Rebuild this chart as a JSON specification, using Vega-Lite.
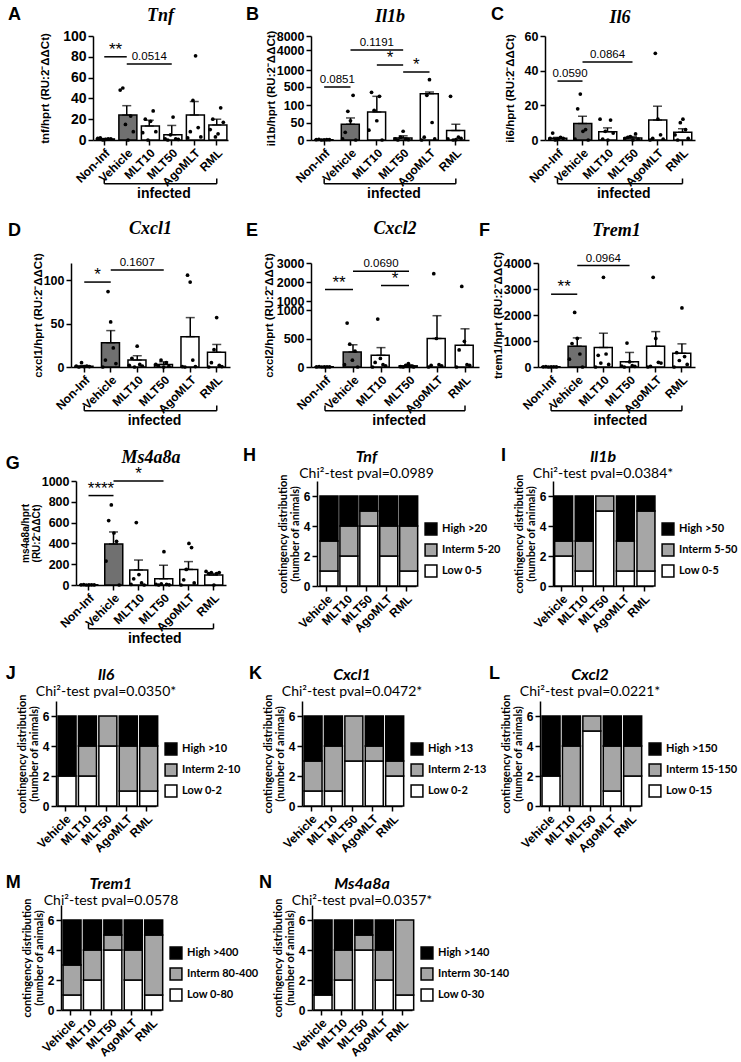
{
"$schema":"https://vega.github.io/schema/vega-lite/v6.json",
"background":"white",
"padding":{"left":5,"top":5,"right":0,"bottom":0},
"datasets":{
"summ":[
{"gene":"Tnf","g":"Non-Inf","v":1,"err":1.4},{"gene":"Tnf","g":"Vehicle","v":24,"err":33},{"gene":"Tnf","g":"MLT10","v":13.5,"err":19},{"gene":"Tnf","g":"MLT50","v":5,"err":14},{"gene":"Tnf","g":"AgoMLT","v":24,"err":37},{"gene":"Tnf","g":"RML","v":14.5,"err":20},
{"gene":"Il1b","g":"Non-Inf","v":1,"err":1.4},{"gene":"Il1b","g":"Vehicle","v":45,"err":63},{"gene":"Il1b","g":"MLT10","v":80,"err":230},{"gene":"Il1b","g":"MLT50","v":6,"err":12},{"gene":"Il1b","g":"AgoMLT","v":290,"err":340},{"gene":"Il1b","g":"RML","v":27,"err":45},
{"gene":"Il6","g":"Non-Inf","v":1,"err":1.5},{"gene":"Il6","g":"Vehicle","v":9.5,"err":13.7},{"gene":"Il6","g":"MLT10","v":4.8,"err":7},{"gene":"Il6","g":"MLT50","v":1.2,"err":2},{"gene":"Il6","g":"AgoMLT","v":11.5,"err":19.5},{"gene":"Il6","g":"RML","v":4.5,"err":6.5},
{"gene":"Cxcl1","g":"Non-Inf","v":1,"err":1.6},{"gene":"Cxcl1","g":"Vehicle","v":28,"err":42},{"gene":"Cxcl1","g":"MLT10","v":8,"err":13},{"gene":"Cxcl1","g":"MLT50","v":3,"err":6},{"gene":"Cxcl1","g":"AgoMLT","v":35,"err":57},{"gene":"Cxcl1","g":"RML","v":17,"err":26},
{"gene":"Cxcl2","g":"Non-Inf","v":5,"err":7},{"gene":"Cxcl2","g":"Vehicle","v":265,"err":390},{"gene":"Cxcl2","g":"MLT10","v":205,"err":340},{"gene":"Cxcl2","g":"MLT50","v":20,"err":40},{"gene":"Cxcl2","g":"AgoMLT","v":500,"err":900},{"gene":"Cxcl2","g":"RML","v":380,"err":670},
{"gene":"Trem1","g":"Non-Inf","v":10,"err":15},{"gene":"Trem1","g":"Vehicle","v":800,"err":1120},{"gene":"Trem1","g":"MLT10","v":750,"err":1300},{"gene":"Trem1","g":"MLT50","v":200,"err":560},{"gene":"Trem1","g":"AgoMLT","v":800,"err":1360},{"gene":"Trem1","g":"RML","v":530,"err":890},
{"gene":"Ms4a8a","g":"Non-Inf","v":2,"err":3},{"gene":"Ms4a8a","g":"Vehicle","v":395,"err":510},{"gene":"Ms4a8a","g":"MLT10","v":145,"err":240},{"gene":"Ms4a8a","g":"MLT50","v":60,"err":190},{"gene":"Ms4a8a","g":"AgoMLT","v":150,"err":225},{"gene":"Ms4a8a","g":"RML","v":95,"err":110}
],
"pts":[
{"gene":"Tnf","g":"Non-Inf","rep":2,"v":2},{"gene":"Tnf","g":"Non-Inf","rep":5,"v":1},{"gene":"Tnf","g":"Non-Inf","rep":1,"v":1.5},{"gene":"Tnf","g":"Non-Inf","rep":4,"v":0.5},{"gene":"Tnf","g":"Non-Inf","rep":6,"v":1},{"gene":"Tnf","g":"Non-Inf","rep":3,"v":0},
{"gene":"Tnf","g":"Vehicle","rep":2,"v":50},{"gene":"Tnf","g":"Vehicle","rep":1,"v":48},{"gene":"Tnf","g":"Vehicle","rep":5,"v":23},{"gene":"Tnf","g":"Vehicle","rep":3,"v":15},{"gene":"Tnf","g":"Vehicle","rep":6,"v":8},{"gene":"Tnf","g":"Vehicle","rep":4,"v":0},
{"gene":"Tnf","g":"MLT10","rep":5,"v":28},{"gene":"Tnf","g":"MLT10","rep":2,"v":20},{"gene":"Tnf","g":"MLT10","rep":4,"v":18},{"gene":"Tnf","g":"MLT10","rep":6,"v":8},{"gene":"Tnf","g":"MLT10","rep":1,"v":7},{"gene":"Tnf","g":"MLT10","rep":3,"v":0},
{"gene":"Tnf","g":"MLT50","rep":4,"v":22},{"gene":"Tnf","g":"MLT50","rep":3,"v":5},{"gene":"Tnf","g":"MLT50","rep":1,"v":1},{"gene":"Tnf","g":"MLT50","rep":5,"v":1},{"gene":"Tnf","g":"MLT50","rep":6,"v":0.5},{"gene":"Tnf","g":"MLT50","rep":2,"v":0},
{"gene":"Tnf","g":"AgoMLT","rep":4,"v":81},{"gene":"Tnf","g":"AgoMLT","rep":3,"v":38},{"gene":"Tnf","g":"AgoMLT","rep":5,"v":12},{"gene":"Tnf","g":"AgoMLT","rep":2,"v":8},{"gene":"Tnf","g":"AgoMLT","rep":6,"v":3},{"gene":"Tnf","g":"AgoMLT","rep":1,"v":2},
{"gene":"Tnf","g":"RML","rep":5,"v":31},{"gene":"Tnf","g":"RML","rep":2,"v":20},{"gene":"Tnf","g":"RML","rep":6,"v":17},{"gene":"Tnf","g":"RML","rep":1,"v":10},{"gene":"Tnf","g":"RML","rep":4,"v":6},{"gene":"Tnf","g":"RML","rep":3,"v":3},
{"gene":"Il1b","g":"Non-Inf","rep":2,"v":2},{"gene":"Il1b","g":"Non-Inf","rep":5,"v":1},{"gene":"Il1b","g":"Non-Inf","rep":1,"v":1},{"gene":"Il1b","g":"Non-Inf","rep":4,"v":0.5},{"gene":"Il1b","g":"Non-Inf","rep":6,"v":1},{"gene":"Il1b","g":"Non-Inf","rep":3,"v":0},
{"gene":"Il1b","g":"Vehicle","rep":5,"v":245},{"gene":"Il1b","g":"Vehicle","rep":3,"v":82},{"gene":"Il1b","g":"Vehicle","rep":4,"v":55},{"gene":"Il1b","g":"Vehicle","rep":2,"v":22},{"gene":"Il1b","g":"Vehicle","rep":1,"v":3},{"gene":"Il1b","g":"Vehicle","rep":6,"v":0},
{"gene":"Il1b","g":"MLT10","rep":2,"v":330},{"gene":"Il1b","g":"MLT10","rep":5,"v":230},{"gene":"Il1b","g":"MLT10","rep":3,"v":85},{"gene":"Il1b","g":"MLT10","rep":4,"v":55},{"gene":"Il1b","g":"MLT10","rep":1,"v":28},{"gene":"Il1b","g":"MLT10","rep":6,"v":0},
{"gene":"Il1b","g":"MLT50","rep":4,"v":25},{"gene":"Il1b","g":"MLT50","rep":3,"v":8},{"gene":"Il1b","g":"MLT50","rep":1,"v":3},{"gene":"Il1b","g":"MLT50","rep":5,"v":2},{"gene":"Il1b","g":"MLT50","rep":6,"v":1},{"gene":"Il1b","g":"MLT50","rep":2,"v":0},
{"gene":"Il1b","g":"AgoMLT","rep":4,"v":710},{"gene":"Il1b","g":"AgoMLT","rep":3,"v":245},{"gene":"Il1b","g":"AgoMLT","rep":5,"v":50},{"gene":"Il1b","g":"AgoMLT","rep":2,"v":8},{"gene":"Il1b","g":"AgoMLT","rep":6,"v":3},{"gene":"Il1b","g":"AgoMLT","rep":1,"v":0},
{"gene":"Il1b","g":"RML","rep":2,"v":230},{"gene":"Il1b","g":"RML","rep":5,"v":8},{"gene":"Il1b","g":"RML","rep":6,"v":5},{"gene":"Il1b","g":"RML","rep":1,"v":3},{"gene":"Il1b","g":"RML","rep":4,"v":1},{"gene":"Il1b","g":"RML","rep":3,"v":0},
{"gene":"Il6","g":"Non-Inf","rep":2,"v":4},{"gene":"Il6","g":"Non-Inf","rep":5,"v":1.5},{"gene":"Il6","g":"Non-Inf","rep":1,"v":1},{"gene":"Il6","g":"Non-Inf","rep":4,"v":0.5},{"gene":"Il6","g":"Non-Inf","rep":6,"v":1},{"gene":"Il6","g":"Non-Inf","rep":3,"v":0},
{"gene":"Il6","g":"Vehicle","rep":3,"v":26.5},{"gene":"Il6","g":"Vehicle","rep":2,"v":18},{"gene":"Il6","g":"Vehicle","rep":5,"v":6},{"gene":"Il6","g":"Vehicle","rep":4,"v":5},{"gene":"Il6","g":"Vehicle","rep":1,"v":0.5},{"gene":"Il6","g":"Vehicle","rep":6,"v":0},
{"gene":"Il6","g":"MLT10","rep":1,"v":12},{"gene":"Il6","g":"MLT10","rep":5,"v":11.5},{"gene":"Il6","g":"MLT10","rep":3,"v":5},{"gene":"Il6","g":"MLT10","rep":6,"v":4},{"gene":"Il6","g":"MLT10","rep":2,"v":0.5},{"gene":"Il6","g":"MLT10","rep":4,"v":0},
{"gene":"Il6","g":"MLT50","rep":5,"v":3.5},{"gene":"Il6","g":"MLT50","rep":3,"v":2},{"gene":"Il6","g":"MLT50","rep":1,"v":1},{"gene":"Il6","g":"MLT50","rep":6,"v":0.5},{"gene":"Il6","g":"MLT50","rep":2,"v":1.5},{"gene":"Il6","g":"MLT50","rep":4,"v":0},
{"gene":"Il6","g":"AgoMLT","rep":3,"v":50},{"gene":"Il6","g":"AgoMLT","rep":4,"v":12},{"gene":"Il6","g":"AgoMLT","rep":5,"v":3},{"gene":"Il6","g":"AgoMLT","rep":2,"v":1},{"gene":"Il6","g":"AgoMLT","rep":6,"v":0.5},{"gene":"Il6","g":"AgoMLT","rep":1,"v":0},
{"gene":"Il6","g":"RML","rep":4,"v":12},{"gene":"Il6","g":"RML","rep":3,"v":10},{"gene":"Il6","g":"RML","rep":5,"v":6},{"gene":"Il6","g":"RML","rep":1,"v":3},{"gene":"Il6","g":"RML","rep":6,"v":1},{"gene":"Il6","g":"RML","rep":2,"v":0},
{"gene":"Cxcl1","g":"Non-Inf","rep":3,"v":5},{"gene":"Cxcl1","g":"Non-Inf","rep":5,"v":1},{"gene":"Cxcl1","g":"Non-Inf","rep":1,"v":1},{"gene":"Cxcl1","g":"Non-Inf","rep":4,"v":0.5},{"gene":"Cxcl1","g":"Non-Inf","rep":6,"v":0.5},{"gene":"Cxcl1","g":"Non-Inf","rep":2,"v":0},
{"gene":"Cxcl1","g":"Vehicle","rep":3,"v":87},{"gene":"Cxcl1","g":"Vehicle","rep":4,"v":52},{"gene":"Cxcl1","g":"Vehicle","rep":5,"v":22},{"gene":"Cxcl1","g":"Vehicle","rep":2,"v":8},{"gene":"Cxcl1","g":"Vehicle","rep":6,"v":4},{"gene":"Cxcl1","g":"Vehicle","rep":1,"v":0},
{"gene":"Cxcl1","g":"MLT10","rep":4,"v":24},{"gene":"Cxcl1","g":"MLT10","rep":2,"v":10},{"gene":"Cxcl1","g":"MLT10","rep":5,"v":3},{"gene":"Cxcl1","g":"MLT10","rep":1,"v":2},{"gene":"Cxcl1","g":"MLT10","rep":6,"v":1},{"gene":"Cxcl1","g":"MLT10","rep":3,"v":0},
{"gene":"Cxcl1","g":"MLT50","rep":3,"v":8},{"gene":"Cxcl1","g":"MLT50","rep":5,"v":5},{"gene":"Cxcl1","g":"MLT50","rep":1,"v":3},{"gene":"Cxcl1","g":"MLT50","rep":6,"v":1},{"gene":"Cxcl1","g":"MLT50","rep":2,"v":1},{"gene":"Cxcl1","g":"MLT50","rep":4,"v":0},
{"gene":"Cxcl1","g":"AgoMLT","rep":3,"v":106},{"gene":"Cxcl1","g":"AgoMLT","rep":4,"v":98},{"gene":"Cxcl1","g":"AgoMLT","rep":5,"v":8},{"gene":"Cxcl1","g":"AgoMLT","rep":1,"v":0.5},{"gene":"Cxcl1","g":"AgoMLT","rep":6,"v":0.5},{"gene":"Cxcl1","g":"AgoMLT","rep":2,"v":0},
{"gene":"Cxcl1","g":"RML","rep":4,"v":57},{"gene":"Cxcl1","g":"RML","rep":3,"v":20},{"gene":"Cxcl1","g":"RML","rep":2,"v":5},{"gene":"Cxcl1","g":"RML","rep":5,"v":2},{"gene":"Cxcl1","g":"RML","rep":6,"v":0.5},{"gene":"Cxcl1","g":"RML","rep":1,"v":0},
{"gene":"Cxcl2","g":"Non-Inf","rep":2,"v":5},{"gene":"Cxcl2","g":"Non-Inf","rep":5,"v":3},{"gene":"Cxcl2","g":"Non-Inf","rep":1,"v":2},{"gene":"Cxcl2","g":"Non-Inf","rep":4,"v":1},{"gene":"Cxcl2","g":"Non-Inf","rep":6,"v":1},{"gene":"Cxcl2","g":"Non-Inf","rep":3,"v":0},
{"gene":"Cxcl2","g":"Vehicle","rep":2,"v":770},{"gene":"Cxcl2","g":"Vehicle","rep":3,"v":400},{"gene":"Cxcl2","g":"Vehicle","rep":5,"v":280},{"gene":"Cxcl2","g":"Vehicle","rep":4,"v":120},{"gene":"Cxcl2","g":"Vehicle","rep":1,"v":40},{"gene":"Cxcl2","g":"Vehicle","rep":6,"v":0},
{"gene":"Cxcl2","g":"MLT10","rep":3,"v":840},{"gene":"Cxcl2","g":"MLT10","rep":4,"v":150},{"gene":"Cxcl2","g":"MLT10","rep":2,"v":80},{"gene":"Cxcl2","g":"MLT10","rep":5,"v":40},{"gene":"Cxcl2","g":"MLT10","rep":6,"v":20},{"gene":"Cxcl2","g":"MLT10","rep":1,"v":0},
{"gene":"Cxcl2","g":"MLT50","rep":4,"v":60},{"gene":"Cxcl2","g":"MLT50","rep":3,"v":30},{"gene":"Cxcl2","g":"MLT50","rep":5,"v":10},{"gene":"Cxcl2","g":"MLT50","rep":1,"v":5},{"gene":"Cxcl2","g":"MLT50","rep":6,"v":2},{"gene":"Cxcl2","g":"MLT50","rep":2,"v":0},
{"gene":"Cxcl2","g":"AgoMLT","rep":3,"v":2450},{"gene":"Cxcl2","g":"AgoMLT","rep":4,"v":500},{"gene":"Cxcl2","g":"AgoMLT","rep":5,"v":40},{"gene":"Cxcl2","g":"AgoMLT","rep":2,"v":30},{"gene":"Cxcl2","g":"AgoMLT","rep":6,"v":20},{"gene":"Cxcl2","g":"AgoMLT","rep":1,"v":0},
{"gene":"Cxcl2","g":"RML","rep":3,"v":1800},{"gene":"Cxcl2","g":"RML","rep":4,"v":450},{"gene":"Cxcl2","g":"RML","rep":2,"v":300},{"gene":"Cxcl2","g":"RML","rep":5,"v":40},{"gene":"Cxcl2","g":"RML","rep":6,"v":30},{"gene":"Cxcl2","g":"RML","rep":1,"v":0},
{"gene":"Trem1","g":"Non-Inf","rep":2,"v":10},{"gene":"Trem1","g":"Non-Inf","rep":5,"v":5},{"gene":"Trem1","g":"Non-Inf","rep":1,"v":5},{"gene":"Trem1","g":"Non-Inf","rep":4,"v":3},{"gene":"Trem1","g":"Non-Inf","rep":6,"v":2},{"gene":"Trem1","g":"Non-Inf","rep":3,"v":0},
{"gene":"Trem1","g":"Vehicle","rep":3,"v":2100},{"gene":"Trem1","g":"Vehicle","rep":4,"v":1100},{"gene":"Trem1","g":"Vehicle","rep":2,"v":900},{"gene":"Trem1","g":"Vehicle","rep":5,"v":500},{"gene":"Trem1","g":"Vehicle","rep":1,"v":300},{"gene":"Trem1","g":"Vehicle","rep":6,"v":0},
{"gene":"Trem1","g":"MLT10","rep":4,"v":3450},{"gene":"Trem1","g":"MLT10","rep":5,"v":500},{"gene":"Trem1","g":"MLT10","rep":2,"v":450},{"gene":"Trem1","g":"MLT10","rep":3,"v":150},{"gene":"Trem1","g":"MLT10","rep":6,"v":100},{"gene":"Trem1","g":"MLT10","rep":1,"v":0},
{"gene":"Trem1","g":"MLT50","rep":3,"v":920},{"gene":"Trem1","g":"MLT50","rep":4,"v":200},{"gene":"Trem1","g":"MLT50","rep":5,"v":50},{"gene":"Trem1","g":"MLT50","rep":1,"v":30},{"gene":"Trem1","g":"MLT50","rep":6,"v":20},{"gene":"Trem1","g":"MLT50","rep":2,"v":0},
{"gene":"Trem1","g":"AgoMLT","rep":3,"v":3450},{"gene":"Trem1","g":"AgoMLT","rep":4,"v":1100},{"gene":"Trem1","g":"AgoMLT","rep":5,"v":180},{"gene":"Trem1","g":"AgoMLT","rep":6,"v":150},{"gene":"Trem1","g":"AgoMLT","rep":2,"v":20},{"gene":"Trem1","g":"AgoMLT","rep":1,"v":0},
{"gene":"Trem1","g":"RML","rep":4,"v":2270},{"gene":"Trem1","g":"RML","rep":2,"v":550},{"gene":"Trem1","g":"RML","rep":5,"v":400},{"gene":"Trem1","g":"RML","rep":3,"v":250},{"gene":"Trem1","g":"RML","rep":6,"v":100},{"gene":"Trem1","g":"RML","rep":1,"v":0},
{"gene":"Ms4a8a","g":"Non-Inf","rep":2,"v":3},{"gene":"Ms4a8a","g":"Non-Inf","rep":5,"v":2},{"gene":"Ms4a8a","g":"Non-Inf","rep":1,"v":2},{"gene":"Ms4a8a","g":"Non-Inf","rep":4,"v":1},{"gene":"Ms4a8a","g":"Non-Inf","rep":6,"v":1},{"gene":"Ms4a8a","g":"Non-Inf","rep":3,"v":0},
{"gene":"Ms4a8a","g":"Vehicle","rep":3,"v":770},{"gene":"Ms4a8a","g":"Vehicle","rep":2,"v":620},{"gene":"Ms4a8a","g":"Vehicle","rep":4,"v":500},{"gene":"Ms4a8a","g":"Vehicle","rep":5,"v":420},{"gene":"Ms4a8a","g":"Vehicle","rep":1,"v":230},{"gene":"Ms4a8a","g":"Vehicle","rep":6,"v":0},
{"gene":"Ms4a8a","g":"MLT10","rep":3,"v":600},{"gene":"Ms4a8a","g":"MLT10","rep":4,"v":100},{"gene":"Ms4a8a","g":"MLT10","rep":2,"v":60},{"gene":"Ms4a8a","g":"MLT10","rep":5,"v":20},{"gene":"Ms4a8a","g":"MLT10","rep":1,"v":5},{"gene":"Ms4a8a","g":"MLT10","rep":6,"v":0},
{"gene":"Ms4a8a","g":"MLT50","rep":4,"v":320},{"gene":"Ms4a8a","g":"MLT50","rep":3,"v":10},{"gene":"Ms4a8a","g":"MLT50","rep":1,"v":5},{"gene":"Ms4a8a","g":"MLT50","rep":5,"v":5},{"gene":"Ms4a8a","g":"MLT50","rep":6,"v":2},{"gene":"Ms4a8a","g":"MLT50","rep":2,"v":0},
{"gene":"Ms4a8a","g":"AgoMLT","rep":4,"v":400},{"gene":"Ms4a8a","g":"AgoMLT","rep":5,"v":360},{"gene":"Ms4a8a","g":"AgoMLT","rep":3,"v":150},{"gene":"Ms4a8a","g":"AgoMLT","rep":2,"v":50},{"gene":"Ms4a8a","g":"AgoMLT","rep":6,"v":20},{"gene":"Ms4a8a","g":"AgoMLT","rep":1,"v":0},
{"gene":"Ms4a8a","g":"RML","rep":1,"v":130},{"gene":"Ms4a8a","g":"RML","rep":3,"v":120},{"gene":"Ms4a8a","g":"RML","rep":6,"v":120},{"gene":"Ms4a8a","g":"RML","rep":2,"v":110},{"gene":"Ms4a8a","g":"RML","rep":5,"v":110},{"gene":"Ms4a8a","g":"RML","rep":4,"v":0}
],
"ann":[
{"gene":"Tnf","g":"Non-Inf","g2":"Vehicle","v":80,"label":"**"},{"gene":"Tnf","g":"Vehicle","g2":"MLT50","v":73,"label":"0.0514"},
{"gene":"Il1b","g":"Non-Inf","g2":"Vehicle","v":490,"label":"0.0851"},{"gene":"Il1b","g":"Vehicle","g2":"MLT50","v":4000,"label":"0.1191"},{"gene":"Il1b","g":"MLT10","g2":"MLT50","v":1100,"label":"*"},{"gene":"Il1b","g":"MLT50","g2":"AgoMLT","v":940,"label":"*"},
{"gene":"Il6","g":"Non-Inf","g2":"Vehicle","v":34,"label":"0.0590"},{"gene":"Il6","g":"Vehicle","g2":"MLT50","v":45,"label":"0.0864"},
{"gene":"Cxcl1","g":"Non-Inf","g2":"Vehicle","v":98,"label":"*"},{"gene":"Cxcl1","g":"Vehicle","g2":"MLT50","v":112,"label":"0.1607"},
{"gene":"Cxcl2","g":"Non-Inf","g2":"Vehicle","v":1640,"label":"**"},{"gene":"Cxcl2","g":"Vehicle","g2":"MLT50","v":2580,"label":"0.0690"},{"gene":"Cxcl2","g":"MLT10","g2":"MLT50","v":1845,"label":"*"},
{"gene":"Trem1","g":"Non-Inf","g2":"Vehicle","v":2800,"label":"**"},{"gene":"Trem1","g":"Vehicle","g2":"MLT50","v":3900,"label":"0.0964"},
{"gene":"Ms4a8a","g":"Non-Inf","g2":"Vehicle","v":860,"label":"****"},{"gene":"Ms4a8a","g":"Vehicle","g2":"MLT50","v":1000,"label":"*"}
],
"dist":[
{"gene":"Tnf","g":"Vehicle","cat":"Low","n":1},{"gene":"Tnf","g":"Vehicle","cat":"Interm","n":2},{"gene":"Tnf","g":"Vehicle","cat":"High","n":3},
{"gene":"Tnf","g":"MLT10","cat":"Low","n":2},{"gene":"Tnf","g":"MLT10","cat":"Interm","n":2},{"gene":"Tnf","g":"MLT10","cat":"High","n":2},
{"gene":"Tnf","g":"MLT50","cat":"Low","n":4},{"gene":"Tnf","g":"MLT50","cat":"Interm","n":1},{"gene":"Tnf","g":"MLT50","cat":"High","n":1},
{"gene":"Tnf","g":"AgoMLT","cat":"Low","n":2},{"gene":"Tnf","g":"AgoMLT","cat":"Interm","n":2},{"gene":"Tnf","g":"AgoMLT","cat":"High","n":2},
{"gene":"Tnf","g":"RML","cat":"Low","n":1},{"gene":"Tnf","g":"RML","cat":"Interm","n":3},{"gene":"Tnf","g":"RML","cat":"High","n":2},
{"gene":"Il1b","g":"Vehicle","cat":"Low","n":2},{"gene":"Il1b","g":"Vehicle","cat":"Interm","n":1},{"gene":"Il1b","g":"Vehicle","cat":"High","n":3},
{"gene":"Il1b","g":"MLT10","cat":"Low","n":1},{"gene":"Il1b","g":"MLT10","cat":"Interm","n":2},{"gene":"Il1b","g":"MLT10","cat":"High","n":3},
{"gene":"Il1b","g":"MLT50","cat":"Low","n":5},{"gene":"Il1b","g":"MLT50","cat":"Interm","n":1},
{"gene":"Il1b","g":"AgoMLT","cat":"Low","n":1},{"gene":"Il1b","g":"AgoMLT","cat":"Interm","n":2},{"gene":"Il1b","g":"AgoMLT","cat":"High","n":3},
{"gene":"Il1b","g":"RML","cat":"Low","n":1},{"gene":"Il1b","g":"RML","cat":"Interm","n":4},{"gene":"Il1b","g":"RML","cat":"High","n":1},
{"gene":"Il6","g":"Vehicle","cat":"Low","n":2},{"gene":"Il6","g":"Vehicle","cat":"High","n":4},
{"gene":"Il6","g":"MLT10","cat":"Low","n":2},{"gene":"Il6","g":"MLT10","cat":"Interm","n":2},{"gene":"Il6","g":"MLT10","cat":"High","n":2},
{"gene":"Il6","g":"MLT50","cat":"Low","n":4},{"gene":"Il6","g":"MLT50","cat":"Interm","n":2},
{"gene":"Il6","g":"AgoMLT","cat":"Low","n":1},{"gene":"Il6","g":"AgoMLT","cat":"Interm","n":3},{"gene":"Il6","g":"AgoMLT","cat":"High","n":2},
{"gene":"Il6","g":"RML","cat":"Low","n":1},{"gene":"Il6","g":"RML","cat":"Interm","n":3},{"gene":"Il6","g":"RML","cat":"High","n":2},
{"gene":"Cxcl1","g":"Vehicle","cat":"Low","n":1},{"gene":"Cxcl1","g":"Vehicle","cat":"Interm","n":2},{"gene":"Cxcl1","g":"Vehicle","cat":"High","n":3},
{"gene":"Cxcl1","g":"MLT10","cat":"Low","n":1},{"gene":"Cxcl1","g":"MLT10","cat":"Interm","n":3},{"gene":"Cxcl1","g":"MLT10","cat":"High","n":2},
{"gene":"Cxcl1","g":"MLT50","cat":"Low","n":3},{"gene":"Cxcl1","g":"MLT50","cat":"Interm","n":3},
{"gene":"Cxcl1","g":"AgoMLT","cat":"Low","n":3},{"gene":"Cxcl1","g":"AgoMLT","cat":"Interm","n":1},{"gene":"Cxcl1","g":"AgoMLT","cat":"High","n":2},
{"gene":"Cxcl1","g":"RML","cat":"Low","n":2},{"gene":"Cxcl1","g":"RML","cat":"Interm","n":1},{"gene":"Cxcl1","g":"RML","cat":"High","n":3},
{"gene":"Cxcl2","g":"Vehicle","cat":"Low","n":2},{"gene":"Cxcl2","g":"Vehicle","cat":"High","n":4},
{"gene":"Cxcl2","g":"MLT10","cat":"Interm","n":4},{"gene":"Cxcl2","g":"MLT10","cat":"High","n":2},
{"gene":"Cxcl2","g":"MLT50","cat":"Low","n":5},{"gene":"Cxcl2","g":"MLT50","cat":"Interm","n":1},
{"gene":"Cxcl2","g":"AgoMLT","cat":"Low","n":1},{"gene":"Cxcl2","g":"AgoMLT","cat":"Interm","n":3},{"gene":"Cxcl2","g":"AgoMLT","cat":"High","n":2},
{"gene":"Cxcl2","g":"RML","cat":"Low","n":2},{"gene":"Cxcl2","g":"RML","cat":"Interm","n":2},{"gene":"Cxcl2","g":"RML","cat":"High","n":2},
{"gene":"Trem1","g":"Vehicle","cat":"Low","n":1},{"gene":"Trem1","g":"Vehicle","cat":"Interm","n":2},{"gene":"Trem1","g":"Vehicle","cat":"High","n":3},
{"gene":"Trem1","g":"MLT10","cat":"Low","n":2},{"gene":"Trem1","g":"MLT10","cat":"Interm","n":2},{"gene":"Trem1","g":"MLT10","cat":"High","n":2},
{"gene":"Trem1","g":"MLT50","cat":"Low","n":4},{"gene":"Trem1","g":"MLT50","cat":"Interm","n":1},{"gene":"Trem1","g":"MLT50","cat":"High","n":1},
{"gene":"Trem1","g":"AgoMLT","cat":"Low","n":2},{"gene":"Trem1","g":"AgoMLT","cat":"Interm","n":2},{"gene":"Trem1","g":"AgoMLT","cat":"High","n":2},
{"gene":"Trem1","g":"RML","cat":"Low","n":1},{"gene":"Trem1","g":"RML","cat":"Interm","n":4},{"gene":"Trem1","g":"RML","cat":"High","n":1},
{"gene":"Ms4a8a","g":"Vehicle","cat":"Low","n":1},{"gene":"Ms4a8a","g":"Vehicle","cat":"High","n":5},
{"gene":"Ms4a8a","g":"MLT10","cat":"Low","n":2},{"gene":"Ms4a8a","g":"MLT10","cat":"Interm","n":2},{"gene":"Ms4a8a","g":"MLT10","cat":"High","n":2},
{"gene":"Ms4a8a","g":"MLT50","cat":"Low","n":4},{"gene":"Ms4a8a","g":"MLT50","cat":"Interm","n":1},{"gene":"Ms4a8a","g":"MLT50","cat":"High","n":1},
{"gene":"Ms4a8a","g":"AgoMLT","cat":"Low","n":2},{"gene":"Ms4a8a","g":"AgoMLT","cat":"Interm","n":2},{"gene":"Ms4a8a","g":"AgoMLT","cat":"High","n":2},
{"gene":"Ms4a8a","g":"RML","cat":"Low","n":1},{"gene":"Ms4a8a","g":"RML","cat":"Interm","n":5}
]
},
"spacing":18,
"resolve":{"scale":{"fill":"independent"},"legend":{"fill":"independent"}},
"vconcat":[
{"hconcat":[
 {"width":31,"height":1,"title":{"text":"A","anchor":"start","fontSize":18,"fontWeight":"bold","offset":10,"dx":0},"data":{"values":[{}]},"mark":{"type":"point","opacity":0}},
 {"width":135,"height":104,
   "title":{"text":"Tnf","font":"Liberation Serif","fontStyle":"italic","fontWeight":"bold","fontSize":18,"offset":4},
   "resolve":{"scale":{"x":"independent","y":"independent"}},
   "layer":[
    {"encoding":{"x":{"field":"g","type":"nominal","scale":{"domain":["Non-Inf","Vehicle","MLT10","MLT50","AgoMLT","RML"],"paddingInner":0.3,"paddingOuter":0.15},"axis":{"title":null,"labelAngle":-45,"labelFontSize":12}},
      "y":{"field":"v","type":"quantitative","scale":{"domain":[0,100],"nice":false},"axis":{"title":"tnf/hprt (RU:2⁻ΔΔCt)","values":[0,20,40,60,80,100],"format":"d","labelFontSize":14,"titlePadding":12}}},
     "layer":[
      {"data":{"name":"summ"},"transform":[{"filter":"datum.gene=='Tnf'"}],"mark":{"type":"bar","stroke":"black","strokeWidth":1.5},"encoding":{"fill":{"condition":{"test":"datum.g=='Vehicle'","value":"#707070"},"value":"white"}}},
      {"data":{"name":"summ"},"transform":[{"filter":"datum.gene=='Tnf'"}],"mark":{"type":"errorbar","ticks":{"size":9,"thickness":1.5,"color":"black"},"rule":{"strokeWidth":1.5,"color":"black"}},"encoding":{"y2":{"field":"err"}}},
      {"data":{"name":"pts"},"transform":[{"filter":"datum.gene=='Tnf'"}],"mark":{"type":"circle","color":"black","size":14,"opacity":1},"encoding":{"xOffset":{"field":"rep","type":"nominal"}}},
      {"data":{"name":"ann"},"transform":[{"filter":"datum.gene=='Tnf'"}],"mark":{"type":"rule","color":"black","strokeWidth":1.5},"encoding":{"x2":{"field":"g2"}}}
     ]},
    {"data":{"name":"ann"},"transform":[{"filter":"datum.gene=='Tnf'"},{"calculate":"(indexof(['Non-Inf','Vehicle','MLT10','MLT50','AgoMLT','RML'],datum.g)+indexof(['Non-Inf','Vehicle','MLT10','MLT50','AgoMLT','RML'],datum.g2))/2","as":"xm"}],"mark":{"type":"text","baseline":"middle","dy":-7,"color":"black"},"encoding":{"x":{"field":"xm","type":"quantitative","scale":{"domain":[-0.5,5.5],"nice":false,"zero":false},"axis":null},"y":{"field":"v","type":"quantitative","scale":{"domain":[0,100],"nice":false},"axis":null},"text":{"field":"label"},"size":{"condition":{"test":"indexof(datum.label,'*')>=0","value":17},"value":11.5}}},
    {"data":{"values":[{}]},"layer":[
      {"mark":{"type":"rule","color":"black","strokeWidth":1.5},"encoding":{"x":{"datum":"Non-Inf","type":"nominal","bandPosition":0.5,"scale":{"domain":["Non-Inf","Vehicle","MLT10","MLT50","AgoMLT","RML"],"paddingInner":0.3,"paddingOuter":0.15},"axis":null},"x2":{"datum":"RML","bandPosition":0.5},"y":{"datum":-0.42,"type":"quantitative","scale":{"domain":[0,1]},"axis":null}}},
      {"mark":{"type":"rule","color":"black","strokeWidth":1.5},"encoding":{"x":{"datum":"Non-Inf","type":"nominal","bandPosition":0.5,"axis":null},"y":{"datum":-0.42,"type":"quantitative","axis":null},"y2":{"datum":-0.37}}},
      {"mark":{"type":"rule","color":"black","strokeWidth":1.5},"encoding":{"x":{"datum":"RML","type":"nominal","bandPosition":0.5,"axis":null},"y":{"datum":-0.42,"type":"quantitative","axis":null},"y2":{"datum":-0.37}}},
      {"mark":{"type":"text","fontSize":14,"fontWeight":"bold","baseline":"top","dy":3,"color":"black"},"encoding":{"x":{"datum":"MLT50","type":"nominal","bandPosition":0,"axis":null},"y":{"datum":-0.42,"type":"quantitative","axis":null},"text":{"value":"infected"}}}
    ]}
   ]},
 {"width":37,"height":1,"title":{"text":"B","anchor":"start","fontSize":18,"fontWeight":"bold","offset":10,"dx":18},"data":{"values":[{}]},"mark":{"type":"point","opacity":0}},
 {"width":158,"height":104,
   "title":{"text":"Il1b","font":"Liberation Serif","fontStyle":"italic","fontWeight":"bold","fontSize":18,"offset":4},
   "resolve":{"scale":{"x":"independent","y":"independent"}},
   "layer":[
    {"encoding":{"x":{"field":"g","type":"nominal","scale":{"domain":["Non-Inf","Vehicle","MLT10","MLT50","AgoMLT","RML"],"paddingInner":0.3,"paddingOuter":0.15},"axis":{"title":null,"labelAngle":-45,"labelFontSize":12}},
      "y":{"field":"v","type":"quantitative","scale":{"domain":[0,100,250,1000,1200,8000],"range":[104,69,59,34,24,0],"nice":false,"zero":false},"axis":{"title":"il1b/hprt (RU:2⁻ΔΔCt)","values":[0,50,100,500,1000,4000,8000],"format":"d","labelOverlap":false,"titlePadding":0}}},
     "layer":[
      {"data":{"name":"summ"},"transform":[{"filter":"datum.gene=='Il1b'"}],"mark":{"type":"bar","stroke":"black","strokeWidth":1.5},"encoding":{"fill":{"condition":{"test":"datum.g=='Vehicle'","value":"#707070"},"value":"white"}}},
      {"data":{"name":"summ"},"transform":[{"filter":"datum.gene=='Il1b'"}],"mark":{"type":"errorbar","ticks":{"size":9,"thickness":1.5,"color":"black"},"rule":{"strokeWidth":1.5,"color":"black"}},"encoding":{"y2":{"field":"err"}}},
      {"data":{"name":"pts"},"transform":[{"filter":"datum.gene=='Il1b'"}],"mark":{"type":"circle","color":"black","size":14,"opacity":1},"encoding":{"xOffset":{"field":"rep","type":"nominal"}}},
      {"data":{"name":"ann"},"transform":[{"filter":"datum.gene=='Il1b'"}],"mark":{"type":"rule","color":"black","strokeWidth":1.5},"encoding":{"x2":{"field":"g2"}}}
     ]},
    {"data":{"name":"ann"},"transform":[{"filter":"datum.gene=='Il1b'"},{"calculate":"(indexof(['Non-Inf','Vehicle','MLT10','MLT50','AgoMLT','RML'],datum.g)+indexof(['Non-Inf','Vehicle','MLT10','MLT50','AgoMLT','RML'],datum.g2))/2","as":"xm"}],"mark":{"type":"text","baseline":"middle","dy":-7,"color":"black"},"encoding":{"x":{"field":"xm","type":"quantitative","scale":{"domain":[-0.5,5.5],"nice":false,"zero":false},"axis":null},"y":{"field":"v","type":"quantitative","scale":{"domain":[0,100,250,1000,1200,8000],"range":[104,69,59,34,24,0],"nice":false,"zero":false},"axis":null},"text":{"field":"label"},"size":{"condition":{"test":"indexof(datum.label,'*')>=0","value":17},"value":11.5}}},
    {"data":{"values":[{}]},"layer":[
      {"mark":{"type":"rule","color":"black","strokeWidth":1.5},"encoding":{"x":{"datum":"Non-Inf","type":"nominal","bandPosition":0.5,"scale":{"domain":["Non-Inf","Vehicle","MLT10","MLT50","AgoMLT","RML"],"paddingInner":0.3,"paddingOuter":0.15},"axis":null},"x2":{"datum":"RML","bandPosition":0.5},"y":{"datum":-0.42,"type":"quantitative","scale":{"domain":[0,1]},"axis":null}}},
      {"mark":{"type":"rule","color":"black","strokeWidth":1.5},"encoding":{"x":{"datum":"Non-Inf","type":"nominal","bandPosition":0.5,"axis":null},"y":{"datum":-0.42,"type":"quantitative","axis":null},"y2":{"datum":-0.37}}},
      {"mark":{"type":"rule","color":"black","strokeWidth":1.5},"encoding":{"x":{"datum":"RML","type":"nominal","bandPosition":0.5,"axis":null},"y":{"datum":-0.42,"type":"quantitative","axis":null},"y2":{"datum":-0.37}}},
      {"mark":{"type":"text","fontSize":14,"fontWeight":"bold","baseline":"top","dy":3,"color":"black"},"encoding":{"x":{"datum":"MLT50","type":"nominal","bandPosition":0,"axis":null},"y":{"datum":-0.42,"type":"quantitative","axis":null},"text":{"value":"infected"}}}
    ]}
   ]},
 {"width":35,"height":1,"title":{"text":"C","anchor":"start","fontSize":18,"fontWeight":"bold","offset":10,"dx":22},"data":{"values":[{}]},"mark":{"type":"point","opacity":0}},
 {"width":150,"height":104,
   "title":{"text":"Il6","font":"Liberation Serif","fontStyle":"italic","fontWeight":"bold","fontSize":18,"offset":3},
   "resolve":{"scale":{"x":"independent","y":"independent"}},
   "layer":[
    {"encoding":{"x":{"field":"g","type":"nominal","scale":{"domain":["Non-Inf","Vehicle","MLT10","MLT50","AgoMLT","RML"],"paddingInner":0.3,"paddingOuter":0.15},"axis":{"title":null,"labelAngle":-45,"labelFontSize":12}},
      "y":{"field":"v","type":"quantitative","scale":{"domain":[0,60],"nice":false},"axis":{"title":"il6/hprt (RU:2⁻ΔΔCt)","values":[0,20,40,60],"format":"d","titlePadding":9}}},
     "layer":[
      {"data":{"name":"summ"},"transform":[{"filter":"datum.gene=='Il6'"}],"mark":{"type":"bar","stroke":"black","strokeWidth":1.5},"encoding":{"fill":{"condition":{"test":"datum.g=='Vehicle'","value":"#707070"},"value":"white"}}},
      {"data":{"name":"summ"},"transform":[{"filter":"datum.gene=='Il6'"}],"mark":{"type":"errorbar","ticks":{"size":9,"thickness":1.5,"color":"black"},"rule":{"strokeWidth":1.5,"color":"black"}},"encoding":{"y2":{"field":"err"}}},
      {"data":{"name":"pts"},"transform":[{"filter":"datum.gene=='Il6'"}],"mark":{"type":"circle","color":"black","size":14,"opacity":1},"encoding":{"xOffset":{"field":"rep","type":"nominal"}}},
      {"data":{"name":"ann"},"transform":[{"filter":"datum.gene=='Il6'"}],"mark":{"type":"rule","color":"black","strokeWidth":1.5},"encoding":{"x2":{"field":"g2"}}}
     ]},
    {"data":{"name":"ann"},"transform":[{"filter":"datum.gene=='Il6'"},{"calculate":"(indexof(['Non-Inf','Vehicle','MLT10','MLT50','AgoMLT','RML'],datum.g)+indexof(['Non-Inf','Vehicle','MLT10','MLT50','AgoMLT','RML'],datum.g2))/2","as":"xm"}],"mark":{"type":"text","baseline":"middle","dy":-7,"color":"black"},"encoding":{"x":{"field":"xm","type":"quantitative","scale":{"domain":[-0.5,5.5],"nice":false,"zero":false},"axis":null},"y":{"field":"v","type":"quantitative","scale":{"domain":[0,60],"nice":false},"axis":null},"text":{"field":"label"},"size":{"condition":{"test":"indexof(datum.label,'*')>=0","value":17},"value":11.5}}},
    {"data":{"values":[{}]},"layer":[
      {"mark":{"type":"rule","color":"black","strokeWidth":1.5},"encoding":{"x":{"datum":"Non-Inf","type":"nominal","bandPosition":0.5,"scale":{"domain":["Non-Inf","Vehicle","MLT10","MLT50","AgoMLT","RML"],"paddingInner":0.3,"paddingOuter":0.15},"axis":null},"x2":{"datum":"RML","bandPosition":0.5},"y":{"datum":-0.42,"type":"quantitative","scale":{"domain":[0,1]},"axis":null}}},
      {"mark":{"type":"rule","color":"black","strokeWidth":1.5},"encoding":{"x":{"datum":"Non-Inf","type":"nominal","bandPosition":0.5,"axis":null},"y":{"datum":-0.42,"type":"quantitative","axis":null},"y2":{"datum":-0.37}}},
      {"mark":{"type":"rule","color":"black","strokeWidth":1.5},"encoding":{"x":{"datum":"RML","type":"nominal","bandPosition":0.5,"axis":null},"y":{"datum":-0.42,"type":"quantitative","axis":null},"y2":{"datum":-0.37}}},
      {"mark":{"type":"text","fontSize":14,"fontWeight":"bold","baseline":"top","dy":3,"color":"black"},"encoding":{"x":{"datum":"MLT50","type":"nominal","bandPosition":0,"axis":null},"y":{"datum":-0.42,"type":"quantitative","axis":null},"text":{"value":"infected"}}}
    ]}
   ]}
 ],"spacing":0},
{"hconcat":[
 {"width":24,"height":1,"title":{"text":"D","anchor":"start","fontSize":18,"fontWeight":"bold","offset":21,"dx":0},"data":{"values":[{}]},"mark":{"type":"point","opacity":0}},
 {"width":159,"height":104,
   "title":{"text":"Cxcl1","font":"Liberation Serif","fontStyle":"italic","fontWeight":"bold","fontSize":18,"offset":15},
   "resolve":{"scale":{"x":"independent","y":"independent"}},
   "layer":[
    {"encoding":{"x":{"field":"g","type":"nominal","scale":{"domain":["Non-Inf","Vehicle","MLT10","MLT50","AgoMLT","RML"],"paddingInner":0.3,"paddingOuter":0.15},"axis":{"title":null,"labelAngle":-45,"labelFontSize":12}},
      "y":{"field":"v","type":"quantitative","scale":{"domain":[0,120],"nice":false},"axis":{"title":"cxcl1/hprt (RU:2⁻ΔΔCt)","values":[0,50,100],"format":"d","titlePadding":0}}},
     "layer":[
      {"data":{"name":"summ"},"transform":[{"filter":"datum.gene=='Cxcl1'"}],"mark":{"type":"bar","stroke":"black","strokeWidth":1.5},"encoding":{"fill":{"condition":{"test":"datum.g=='Vehicle'","value":"#707070"},"value":"white"}}},
      {"data":{"name":"summ"},"transform":[{"filter":"datum.gene=='Cxcl1'"}],"mark":{"type":"errorbar","ticks":{"size":9,"thickness":1.5,"color":"black"},"rule":{"strokeWidth":1.5,"color":"black"}},"encoding":{"y2":{"field":"err"}}},
      {"data":{"name":"pts"},"transform":[{"filter":"datum.gene=='Cxcl1'"}],"mark":{"type":"circle","color":"black","size":14,"opacity":1},"encoding":{"xOffset":{"field":"rep","type":"nominal"}}},
      {"data":{"name":"ann"},"transform":[{"filter":"datum.gene=='Cxcl1'"}],"mark":{"type":"rule","color":"black","strokeWidth":1.5},"encoding":{"x2":{"field":"g2"}}}
     ]},
    {"data":{"name":"ann"},"transform":[{"filter":"datum.gene=='Cxcl1'"},{"calculate":"(indexof(['Non-Inf','Vehicle','MLT10','MLT50','AgoMLT','RML'],datum.g)+indexof(['Non-Inf','Vehicle','MLT10','MLT50','AgoMLT','RML'],datum.g2))/2","as":"xm"}],"mark":{"type":"text","baseline":"middle","dy":-7,"color":"black"},"encoding":{"x":{"field":"xm","type":"quantitative","scale":{"domain":[-0.5,5.5],"nice":false,"zero":false},"axis":null},"y":{"field":"v","type":"quantitative","scale":{"domain":[0,120],"nice":false},"axis":null},"text":{"field":"label"},"size":{"condition":{"test":"indexof(datum.label,'*')>=0","value":17},"value":11.5}}},
    {"data":{"values":[{}]},"layer":[
      {"mark":{"type":"rule","color":"black","strokeWidth":1.5},"encoding":{"x":{"datum":"Non-Inf","type":"nominal","bandPosition":0.5,"scale":{"domain":["Non-Inf","Vehicle","MLT10","MLT50","AgoMLT","RML"],"paddingInner":0.3,"paddingOuter":0.15},"axis":null},"x2":{"datum":"RML","bandPosition":0.5},"y":{"datum":-0.42,"type":"quantitative","scale":{"domain":[0,1]},"axis":null}}},
      {"mark":{"type":"rule","color":"black","strokeWidth":1.5},"encoding":{"x":{"datum":"Non-Inf","type":"nominal","bandPosition":0.5,"axis":null},"y":{"datum":-0.42,"type":"quantitative","axis":null},"y2":{"datum":-0.37}}},
      {"mark":{"type":"rule","color":"black","strokeWidth":1.5},"encoding":{"x":{"datum":"RML","type":"nominal","bandPosition":0.5,"axis":null},"y":{"datum":-0.42,"type":"quantitative","axis":null},"y2":{"datum":-0.37}}},
      {"mark":{"type":"text","fontSize":14,"fontWeight":"bold","baseline":"top","dy":3,"color":"black"},"encoding":{"x":{"datum":"MLT50","type":"nominal","bandPosition":0,"axis":null},"y":{"datum":-0.42,"type":"quantitative","axis":null},"text":{"value":"infected"}}}
    ]}
   ]},
 {"width":33,"height":1,"title":{"text":"E","anchor":"start","fontSize":18,"fontWeight":"bold","offset":21,"dx":16},"data":{"values":[{}]},"mark":{"type":"point","opacity":0}},
 {"width":168,"height":104,
   "title":{"text":"Cxcl2","font":"Liberation Serif","fontStyle":"italic","fontWeight":"bold","fontSize":18,"offset":15},
   "resolve":{"scale":{"x":"independent","y":"independent"}},
   "layer":[
    {"encoding":{"x":{"field":"g","type":"nominal","scale":{"domain":["Non-Inf","Vehicle","MLT10","MLT50","AgoMLT","RML"],"paddingInner":0.3,"paddingOuter":0.15},"axis":{"title":null,"labelAngle":-45,"labelFontSize":12}},
      "y":{"field":"v","type":"quantitative","scale":{"domain":[0,1000,1050,3000],"range":[104,47,38,0],"nice":false,"zero":false},"axis":{"title":"cxcl2/hprt (RU:2⁻ΔΔCt)","values":[0,500,1000,1050,2000,3000],"format":"d","labelExpr":"datum.value==1050?'1000':datum.label","labelOverlap":false,"titlePadding":2}}},
     "layer":[
      {"data":{"name":"summ"},"transform":[{"filter":"datum.gene=='Cxcl2'"}],"mark":{"type":"bar","stroke":"black","strokeWidth":1.5},"encoding":{"fill":{"condition":{"test":"datum.g=='Vehicle'","value":"#707070"},"value":"white"}}},
      {"data":{"name":"summ"},"transform":[{"filter":"datum.gene=='Cxcl2'"}],"mark":{"type":"errorbar","ticks":{"size":9,"thickness":1.5,"color":"black"},"rule":{"strokeWidth":1.5,"color":"black"}},"encoding":{"y2":{"field":"err"}}},
      {"data":{"name":"pts"},"transform":[{"filter":"datum.gene=='Cxcl2'"}],"mark":{"type":"circle","color":"black","size":14,"opacity":1},"encoding":{"xOffset":{"field":"rep","type":"nominal"}}},
      {"data":{"name":"ann"},"transform":[{"filter":"datum.gene=='Cxcl2'"}],"mark":{"type":"rule","color":"black","strokeWidth":1.5},"encoding":{"x2":{"field":"g2"}}}
     ]},
    {"data":{"name":"ann"},"transform":[{"filter":"datum.gene=='Cxcl2'"},{"calculate":"(indexof(['Non-Inf','Vehicle','MLT10','MLT50','AgoMLT','RML'],datum.g)+indexof(['Non-Inf','Vehicle','MLT10','MLT50','AgoMLT','RML'],datum.g2))/2","as":"xm"}],"mark":{"type":"text","baseline":"middle","dy":-7,"color":"black"},"encoding":{"x":{"field":"xm","type":"quantitative","scale":{"domain":[-0.5,5.5],"nice":false,"zero":false},"axis":null},"y":{"field":"v","type":"quantitative","scale":{"domain":[0,1000,1050,3000],"range":[104,47,38,0],"nice":false,"zero":false},"axis":null},"text":{"field":"label"},"size":{"condition":{"test":"indexof(datum.label,'*')>=0","value":17},"value":11.5}}},
    {"data":{"values":[{}]},"layer":[
      {"mark":{"type":"rule","color":"black","strokeWidth":1.5},"encoding":{"x":{"datum":"Non-Inf","type":"nominal","bandPosition":0.5,"scale":{"domain":["Non-Inf","Vehicle","MLT10","MLT50","AgoMLT","RML"],"paddingInner":0.3,"paddingOuter":0.15},"axis":null},"x2":{"datum":"RML","bandPosition":0.5},"y":{"datum":-0.42,"type":"quantitative","scale":{"domain":[0,1]},"axis":null}}},
      {"mark":{"type":"rule","color":"black","strokeWidth":1.5},"encoding":{"x":{"datum":"Non-Inf","type":"nominal","bandPosition":0.5,"axis":null},"y":{"datum":-0.42,"type":"quantitative","axis":null},"y2":{"datum":-0.37}}},
      {"mark":{"type":"rule","color":"black","strokeWidth":1.5},"encoding":{"x":{"datum":"RML","type":"nominal","bandPosition":0.5,"axis":null},"y":{"datum":-0.42,"type":"quantitative","axis":null},"y2":{"datum":-0.37}}},
      {"mark":{"type":"text","fontSize":14,"fontWeight":"bold","baseline":"top","dy":3,"color":"black"},"encoding":{"x":{"datum":"MLT50","type":"nominal","bandPosition":0,"axis":null},"y":{"datum":-0.42,"type":"quantitative","axis":null},"text":{"value":"infected"}}}
    ]}
   ]},
 {"width":13,"height":1,"title":{"text":"F","anchor":"start","fontSize":18,"fontWeight":"bold","offset":21,"dx":0},"data":{"values":[{}]},"mark":{"type":"point","opacity":0}},
 {"width":157,"height":104,
   "title":{"text":"Trem1","font":"Liberation Serif","fontStyle":"italic","fontWeight":"bold","fontSize":18,"offset":11},
   "resolve":{"scale":{"x":"independent","y":"independent"}},
   "layer":[
    {"encoding":{"x":{"field":"g","type":"nominal","scale":{"domain":["Non-Inf","Vehicle","MLT10","MLT50","AgoMLT","RML"],"paddingInner":0.3,"paddingOuter":0.15},"axis":{"title":null,"labelAngle":-45,"labelFontSize":12}},
      "y":{"field":"v","type":"quantitative","scale":{"domain":[0,4000],"nice":false},"axis":{"title":"trem1/hprt (RU:2⁻ΔΔCt)","values":[0,1000,2000,3000,4000],"format":"d","titlePadding":0}}},
     "layer":[
      {"data":{"name":"summ"},"transform":[{"filter":"datum.gene=='Trem1'"}],"mark":{"type":"bar","stroke":"black","strokeWidth":1.5},"encoding":{"fill":{"condition":{"test":"datum.g=='Vehicle'","value":"#707070"},"value":"white"}}},
      {"data":{"name":"summ"},"transform":[{"filter":"datum.gene=='Trem1'"}],"mark":{"type":"errorbar","ticks":{"size":9,"thickness":1.5,"color":"black"},"rule":{"strokeWidth":1.5,"color":"black"}},"encoding":{"y2":{"field":"err"}}},
      {"data":{"name":"pts"},"transform":[{"filter":"datum.gene=='Trem1'"}],"mark":{"type":"circle","color":"black","size":14,"opacity":1},"encoding":{"xOffset":{"field":"rep","type":"nominal"}}},
      {"data":{"name":"ann"},"transform":[{"filter":"datum.gene=='Trem1'"}],"mark":{"type":"rule","color":"black","strokeWidth":1.5},"encoding":{"x2":{"field":"g2"}}}
     ]},
    {"data":{"name":"ann"},"transform":[{"filter":"datum.gene=='Trem1'"},{"calculate":"(indexof(['Non-Inf','Vehicle','MLT10','MLT50','AgoMLT','RML'],datum.g)+indexof(['Non-Inf','Vehicle','MLT10','MLT50','AgoMLT','RML'],datum.g2))/2","as":"xm"}],"mark":{"type":"text","baseline":"middle","dy":-7,"color":"black"},"encoding":{"x":{"field":"xm","type":"quantitative","scale":{"domain":[-0.5,5.5],"nice":false,"zero":false},"axis":null},"y":{"field":"v","type":"quantitative","scale":{"domain":[0,4000],"nice":false},"axis":null},"text":{"field":"label"},"size":{"condition":{"test":"indexof(datum.label,'*')>=0","value":17},"value":11.5}}},
    {"data":{"values":[{}]},"layer":[
      {"mark":{"type":"rule","color":"black","strokeWidth":1.5},"encoding":{"x":{"datum":"Non-Inf","type":"nominal","bandPosition":0.5,"scale":{"domain":["Non-Inf","Vehicle","MLT10","MLT50","AgoMLT","RML"],"paddingInner":0.3,"paddingOuter":0.15},"axis":null},"x2":{"datum":"RML","bandPosition":0.5},"y":{"datum":-0.42,"type":"quantitative","scale":{"domain":[0,1]},"axis":null}}},
      {"mark":{"type":"rule","color":"black","strokeWidth":1.5},"encoding":{"x":{"datum":"Non-Inf","type":"nominal","bandPosition":0.5,"axis":null},"y":{"datum":-0.42,"type":"quantitative","axis":null},"y2":{"datum":-0.37}}},
      {"mark":{"type":"rule","color":"black","strokeWidth":1.5},"encoding":{"x":{"datum":"RML","type":"nominal","bandPosition":0.5,"axis":null},"y":{"datum":-0.42,"type":"quantitative","axis":null},"y2":{"datum":-0.37}}},
      {"mark":{"type":"text","fontSize":14,"fontWeight":"bold","baseline":"top","dy":3,"color":"black"},"encoding":{"x":{"datum":"MLT50","type":"nominal","bandPosition":0,"axis":null},"y":{"datum":-0.42,"type":"quantitative","axis":null},"text":{"value":"infected"}}}
    ]}
   ]}
 ],"spacing":0},
{"hconcat":[
 {"width":1,"height":1,"title":{"text":"G","anchor":"start","fontSize":18,"fontWeight":"bold","offset":6,"dx":0},"data":{"values":[{}]},"mark":{"type":"point","opacity":0}},
 {"width":150,"height":104,
   "title":{"text":"Ms4a8a","font":"Liberation Serif","fontStyle":"italic","fontWeight":"bold","fontSize":18,"offset":-2},
   "resolve":{"scale":{"x":"independent","y":"independent"}},
   "layer":[
    {"encoding":{"x":{"field":"g","type":"nominal","scale":{"domain":["Non-Inf","Vehicle","MLT10","MLT50","AgoMLT","RML"],"paddingInner":0.3,"paddingOuter":0.15},"axis":{"title":null,"labelAngle":-45,"labelFontSize":12}},
      "y":{"field":"v","type":"quantitative","scale":{"domain":[0,1000],"nice":false},"axis":{"title":["ms4a8a/hprt","(RU:2⁻ΔΔCt)"],"titleFontSize":10,"titleLineHeight":11,"values":[0,200,400,600,800,1000],"format":"d","titlePadding":0}}},
     "layer":[
      {"data":{"name":"summ"},"transform":[{"filter":"datum.gene=='Ms4a8a'"}],"mark":{"type":"bar","stroke":"black","strokeWidth":1.5},"encoding":{"fill":{"condition":{"test":"datum.g=='Vehicle'","value":"#707070"},"value":"white"}}},
      {"data":{"name":"summ"},"transform":[{"filter":"datum.gene=='Ms4a8a'"}],"mark":{"type":"errorbar","ticks":{"size":9,"thickness":1.5,"color":"black"},"rule":{"strokeWidth":1.5,"color":"black"}},"encoding":{"y2":{"field":"err"}}},
      {"data":{"name":"pts"},"transform":[{"filter":"datum.gene=='Ms4a8a'"}],"mark":{"type":"circle","color":"black","size":14,"opacity":1},"encoding":{"xOffset":{"field":"rep","type":"nominal"}}},
      {"data":{"name":"ann"},"transform":[{"filter":"datum.gene=='Ms4a8a'"}],"mark":{"type":"rule","color":"black","strokeWidth":1.5},"encoding":{"x2":{"field":"g2"}}}
     ]},
    {"data":{"name":"ann"},"transform":[{"filter":"datum.gene=='Ms4a8a'"},{"calculate":"(indexof(['Non-Inf','Vehicle','MLT10','MLT50','AgoMLT','RML'],datum.g)+indexof(['Non-Inf','Vehicle','MLT10','MLT50','AgoMLT','RML'],datum.g2))/2","as":"xm"}],"mark":{"type":"text","baseline":"middle","dy":-7,"color":"black"},"encoding":{"x":{"field":"xm","type":"quantitative","scale":{"domain":[-0.5,5.5],"nice":false,"zero":false},"axis":null},"y":{"field":"v","type":"quantitative","scale":{"domain":[0,1000],"nice":false},"axis":null},"text":{"field":"label"},"size":{"condition":{"test":"indexof(datum.label,'*')>=0","value":17},"value":11.5}}},
    {"data":{"values":[{}]},"layer":[
      {"mark":{"type":"rule","color":"black","strokeWidth":1.5},"encoding":{"x":{"datum":"Non-Inf","type":"nominal","bandPosition":0.5,"scale":{"domain":["Non-Inf","Vehicle","MLT10","MLT50","AgoMLT","RML"],"paddingInner":0.3,"paddingOuter":0.15},"axis":null},"x2":{"datum":"RML","bandPosition":0.5},"y":{"datum":-0.42,"type":"quantitative","scale":{"domain":[0,1]},"axis":null}}},
      {"mark":{"type":"rule","color":"black","strokeWidth":1.5},"encoding":{"x":{"datum":"Non-Inf","type":"nominal","bandPosition":0.5,"axis":null},"y":{"datum":-0.42,"type":"quantitative","axis":null},"y2":{"datum":-0.37}}},
      {"mark":{"type":"rule","color":"black","strokeWidth":1.5},"encoding":{"x":{"datum":"RML","type":"nominal","bandPosition":0.5,"axis":null},"y":{"datum":-0.42,"type":"quantitative","axis":null},"y2":{"datum":-0.37}}},
      {"mark":{"type":"text","fontSize":14,"fontWeight":"bold","baseline":"top","dy":3,"color":"black"},"encoding":{"x":{"datum":"MLT50","type":"nominal","bandPosition":0,"axis":null},"y":{"datum":-0.42,"type":"quantitative","axis":null},"text":{"value":"infected"}}}
    ]}
   ]},
 {"width":51,"height":1,"title":{"text":"H","anchor":"start","fontSize":18,"fontWeight":"bold","offset":14,"dx":17},"data":{"values":[{}]},"mark":{"type":"point","opacity":0}},
 {"width":99,"height":105,
   "title":{"text":"Tnf","subtitle":"Chi²-test pval=0.0989","font":"Lato","fontStyle":"italic","fontWeight":"bold","fontSize":16,"subtitleFont":"Lato","subtitleFontSize":14,"subtitleColor":"black","subtitlePadding":2,"offset":-7},
   "data":{"name":"dist"},"transform":[{"filter":"datum.gene=='Tnf'"}],
   "mark":{"type":"bar","stroke":"black","strokeWidth":1.5},
   "encoding":{
    "x":{"field":"g","type":"nominal","scale":{"domain":["Vehicle","MLT10","MLT50","AgoMLT","RML"],"paddingInner":0.33,"paddingOuter":0.15},"axis":{"title":null,"labelAngle":-45,"labelFontSize":12}},
    "y":{"field":"n","type":"quantitative","stack":"zero","scale":{"domain":[0,7],"nice":false},"axis":{"values":[0,2,4,6],"title":["contingency distribution","(number of animals)"],"titleFont":"Lato","titleFontSize":11,"titleLineHeight":12,"titlePadding":3,"labelFontSize":12}},
    "fill":{"field":"cat","type":"nominal","scale":{"domain":["High","Interm","Low"],"range":["black","#a6a6a6","white"]},"legend":{"title":null,"orient":"none","legendX":107,"legendY":41,"labelExpr":"datum.label=='High'?'High >20':datum.label=='Interm'?'Interm 5-20':'Low 0-5'","symbolType":"square","symbolStrokeColor":"black","symbolStrokeWidth":1.5,"symbolSize":140,"labelFont":"Lato","labelFontSize":11,"labelFontWeight":"bold","rowPadding":3}},
    "order":{"field":"cat","sort":"descending"}
   }},
 {"width":12,"height":1,"title":{"text":"I","anchor":"start","fontSize":18,"fontWeight":"bold","offset":14,"dx":0},"data":{"values":[{}]},"mark":{"type":"point","opacity":0}},
 {"width":100,"height":105,
   "title":{"text":"Il1b","subtitle":"Chi²-test pval=0.0384*","font":"Lato","fontStyle":"italic","fontWeight":"bold","fontSize":16,"subtitleFont":"Lato","subtitleFontSize":14,"subtitleColor":"black","subtitlePadding":2,"offset":-7},
   "data":{"name":"dist"},"transform":[{"filter":"datum.gene=='Il1b'"}],
   "mark":{"type":"bar","stroke":"black","strokeWidth":1.5},
   "encoding":{
    "x":{"field":"g","type":"nominal","scale":{"domain":["Vehicle","MLT10","MLT50","AgoMLT","RML"],"paddingInner":0.3,"paddingOuter":0.08},"axis":{"title":null,"labelAngle":-45,"labelFontSize":12}},
    "y":{"field":"n","type":"quantitative","stack":"zero","scale":{"domain":[0,7],"nice":false},"axis":{"values":[0,2,4,6],"title":["contingency distribution","(number of animals)"],"titleFont":"Lato","titleFontSize":11,"titleLineHeight":12,"titlePadding":3,"labelFontSize":12}},
    "fill":{"field":"cat","type":"nominal","scale":{"domain":["High","Interm","Low"],"range":["black","#a6a6a6","white"]},"legend":{"title":null,"orient":"none","legendX":108,"legendY":41,"labelExpr":"datum.label=='High'?'High >50':datum.label=='Interm'?'Interm 5-50':'Low 0-5'","symbolType":"square","symbolStrokeColor":"black","symbolStrokeWidth":1.5,"symbolSize":140,"labelFont":"Lato","labelFontSize":11,"labelFontWeight":"bold","rowPadding":3}},
    "order":{"field":"cat","sort":"descending"}
   }}
 ],"spacing":0,"resolve":{"scale":{"fill":"independent"},"legend":{"fill":"independent"}}},
{"hconcat":[
 {"width":1,"height":1,"title":{"text":"J","anchor":"start","fontSize":18,"fontWeight":"bold","offset":16,"dx":0},"data":{"values":[{}]},"mark":{"type":"point","opacity":0}},
 {"width":100,"height":105,
   "title":{"text":"Il6","subtitle":"Chi²-test pval=0.0350*","font":"Lato","fontStyle":"italic","fontWeight":"bold","fontSize":16,"subtitleFont":"Lato","subtitleFontSize":14,"subtitleColor":"black","subtitlePadding":2,"offset":-5},
   "data":{"name":"dist"},"transform":[{"filter":"datum.gene=='Il6'"}],
   "mark":{"type":"bar","stroke":"black","strokeWidth":1.5},
   "encoding":{
    "x":{"field":"g","type":"nominal","scale":{"domain":["Vehicle","MLT10","MLT50","AgoMLT","RML"],"paddingInner":0.3,"paddingOuter":0.1},"axis":{"title":null,"labelAngle":-45,"labelFontSize":12}},
    "y":{"field":"n","type":"quantitative","stack":"zero","scale":{"domain":[0,7],"nice":false},"axis":{"values":[0,2,4,6],"title":["contingency distribution","(number of animals)"],"titleFont":"Lato","titleFontSize":11,"titleLineHeight":12,"titlePadding":3,"labelFontSize":12}},
    "fill":{"field":"cat","type":"nominal","scale":{"domain":["High","Interm","Low"],"range":["black","#a6a6a6","white"]},"legend":{"title":null,"orient":"none","legendX":108,"legendY":41,"labelExpr":"datum.label=='High'?'High >10':datum.label=='Interm'?'Interm 2-10':'Low 0-2'","symbolType":"square","symbolStrokeColor":"black","symbolStrokeWidth":1.5,"symbolSize":140,"labelFont":"Lato","labelFontSize":11,"labelFontWeight":"bold","rowPadding":3}},
    "order":{"field":"cat","sort":"descending"}
   }},
 {"width":21,"height":1,"title":{"text":"K","anchor":"start","fontSize":18,"fontWeight":"bold","offset":16,"dx":8},"data":{"values":[{}]},"mark":{"type":"point","opacity":0}},
 {"width":100,"height":105,
   "title":{"text":"Cxcl1","subtitle":"Chi²-test pval=0.0472*","font":"Lato","fontStyle":"italic","fontWeight":"bold","fontSize":16,"subtitleFont":"Lato","subtitleFontSize":14,"subtitleColor":"black","subtitlePadding":2,"offset":-5},
   "data":{"name":"dist"},"transform":[{"filter":"datum.gene=='Cxcl1'"}],
   "mark":{"type":"bar","stroke":"black","strokeWidth":1.5},
   "encoding":{
    "x":{"field":"g","type":"nominal","scale":{"domain":["Vehicle","MLT10","MLT50","AgoMLT","RML"],"paddingInner":0.3,"paddingOuter":0.1},"axis":{"title":null,"labelAngle":-45,"labelFontSize":12}},
    "y":{"field":"n","type":"quantitative","stack":"zero","scale":{"domain":[0,7],"nice":false},"axis":{"values":[0,2,4,6],"title":["contingency distribution","(number of animals)"],"titleFont":"Lato","titleFontSize":11,"titleLineHeight":12,"titlePadding":3,"labelFontSize":12}},
    "fill":{"field":"cat","type":"nominal","scale":{"domain":["High","Interm","Low"],"range":["black","#a6a6a6","white"]},"legend":{"title":null,"orient":"none","legendX":108,"legendY":41,"labelExpr":"datum.label=='High'?'High >13':datum.label=='Interm'?'Interm 2-13':'Low 0-2'","symbolType":"square","symbolStrokeColor":"black","symbolStrokeWidth":1.5,"symbolSize":140,"labelFont":"Lato","labelFontSize":11,"labelFontWeight":"bold","rowPadding":3}},
    "order":{"field":"cat","sort":"descending"}
   }},
 {"width":13,"height":1,"title":{"text":"L","anchor":"start","fontSize":18,"fontWeight":"bold","offset":16,"dx":2},"data":{"values":[{}]},"mark":{"type":"point","opacity":0}},
 {"width":100,"height":105,
   "title":{"text":"Cxcl2","subtitle":"Chi²-test pval=0.0221*","font":"Lato","fontStyle":"italic","fontWeight":"bold","fontSize":16,"subtitleFont":"Lato","subtitleFontSize":14,"subtitleColor":"black","subtitlePadding":2,"offset":-5},
   "data":{"name":"dist"},"transform":[{"filter":"datum.gene=='Cxcl2'"}],
   "mark":{"type":"bar","stroke":"black","strokeWidth":1.5},
   "encoding":{
    "x":{"field":"g","type":"nominal","scale":{"domain":["Vehicle","MLT10","MLT50","AgoMLT","RML"],"paddingInner":0.3,"paddingOuter":0.1},"axis":{"title":null,"labelAngle":-45,"labelFontSize":12}},
    "y":{"field":"n","type":"quantitative","stack":"zero","scale":{"domain":[0,7],"nice":false},"axis":{"values":[0,2,4,6],"title":["contingency distribution","(number of animals)"],"titleFont":"Lato","titleFontSize":11,"titleLineHeight":12,"titlePadding":3,"labelFontSize":12}},
    "fill":{"field":"cat","type":"nominal","scale":{"domain":["High","Interm","Low"],"range":["black","#a6a6a6","white"]},"legend":{"title":null,"orient":"none","legendX":108,"legendY":41,"labelExpr":"datum.label=='High'?'High >150':datum.label=='Interm'?'Interm 15-150':'Low 0-15'","symbolType":"square","symbolStrokeColor":"black","symbolStrokeWidth":1.5,"symbolSize":140,"labelFont":"Lato","labelFontSize":11,"labelFontWeight":"bold","rowPadding":3}},
    "order":{"field":"cat","sort":"descending"}
   }}
 ],"spacing":0,"resolve":{"scale":{"fill":"independent"},"legend":{"fill":"independent"}}},
{"hconcat":[
 {"width":1,"height":1,"title":{"text":"M","anchor":"start","fontSize":18,"fontWeight":"bold","offset":11,"dx":0},"data":{"values":[{}]},"mark":{"type":"point","opacity":0}},
 {"width":100,"height":105,
   "title":{"text":"Trem1","subtitle":"Chi²-test pval=0.0578","font":"Lato","fontStyle":"italic","fontWeight":"bold","fontSize":16,"subtitleFont":"Lato","subtitleFontSize":14,"subtitleColor":"black","subtitlePadding":2,"offset":-10},
   "data":{"name":"dist"},"transform":[{"filter":"datum.gene=='Trem1'"}],
   "mark":{"type":"bar","stroke":"black","strokeWidth":1.5},
   "encoding":{
    "x":{"field":"g","type":"nominal","scale":{"domain":["Vehicle","MLT10","MLT50","AgoMLT","RML"],"paddingInner":0.3,"paddingOuter":0.1},"axis":{"title":null,"labelAngle":-45,"labelFontSize":12}},
    "y":{"field":"n","type":"quantitative","stack":"zero","scale":{"domain":[0,7],"nice":false},"axis":{"values":[0,2,4,6],"title":["contingency distribution","(number of animals)"],"titleFont":"Lato","titleFontSize":11,"titleLineHeight":12,"titlePadding":3,"labelFontSize":12}},
    "fill":{"field":"cat","type":"nominal","scale":{"domain":["High","Interm","Low"],"range":["black","#a6a6a6","white"]},"legend":{"title":null,"orient":"none","legendX":108,"legendY":41,"labelExpr":"datum.label=='High'?'High >400':datum.label=='Interm'?'Interm 80-400':'Low 0-80'","symbolType":"square","symbolStrokeColor":"black","symbolStrokeWidth":1.5,"symbolSize":140,"labelFont":"Lato","labelFontSize":11,"labelFontWeight":"bold","rowPadding":3}},
    "order":{"field":"cat","sort":"descending"}
   }},
 {"width":13,"height":1,"title":{"text":"N","anchor":"start","fontSize":18,"fontWeight":"bold","offset":11,"dx":0},"data":{"values":[{}]},"mark":{"type":"point","opacity":0}},
 {"width":100,"height":105,
   "title":{"text":"Ms4a8a","subtitle":"Chi²-test pval=0.0357*","font":"Lato","fontStyle":"italic","fontWeight":"bold","fontSize":16,"subtitleFont":"Lato","subtitleFontSize":14,"subtitleColor":"black","subtitlePadding":2,"offset":-10},
   "data":{"name":"dist"},"transform":[{"filter":"datum.gene=='Ms4a8a'"}],
   "mark":{"type":"bar","stroke":"black","strokeWidth":1.5},
   "encoding":{
    "x":{"field":"g","type":"nominal","scale":{"domain":["Vehicle","MLT10","MLT50","AgoMLT","RML"],"paddingInner":0.3,"paddingOuter":0.1},"axis":{"title":null,"labelAngle":-45,"labelFontSize":12}},
    "y":{"field":"n","type":"quantitative","stack":"zero","scale":{"domain":[0,7],"nice":false},"axis":{"values":[0,2,4,6],"title":["contingency distribution","(number of animals)"],"titleFont":"Lato","titleFontSize":11,"titleLineHeight":12,"titlePadding":3,"labelFontSize":12}},
    "fill":{"field":"cat","type":"nominal","scale":{"domain":["High","Interm","Low"],"range":["black","#a6a6a6","white"]},"legend":{"title":null,"orient":"none","legendX":108,"legendY":41,"labelExpr":"datum.label=='High'?'High >140':datum.label=='Interm'?'Interm 30-140':'Low 0-30'","symbolType":"square","symbolStrokeColor":"black","symbolStrokeWidth":1.5,"symbolSize":140,"labelFont":"Lato","labelFontSize":11,"labelFontWeight":"bold","rowPadding":3}},
    "order":{"field":"cat","sort":"descending"}
   }}
 ],"spacing":0,"resolve":{"scale":{"fill":"independent"},"legend":{"fill":"independent"}}}
],
"config":{
 "font":"Liberation Sans",
 "view":{"stroke":null},
 "axis":{"grid":false,"domainColor":"black","domainWidth":1.5,"tickColor":"black","tickWidth":1.5,"tickSize":5,"labelColor":"black","labelFontWeight":"bold","labelFontSize":12.5,"labelFont":"Liberation Sans","titleColor":"black","titleFontWeight":"bold","titleFontSize":11.5,"titleFont":"Liberation Sans","labelPadding":2},
 "title":{"color":"black","font":"Liberation Sans"},
 "legend":{"labelColor":"black","labelFont":"Liberation Sans"}
}
}
